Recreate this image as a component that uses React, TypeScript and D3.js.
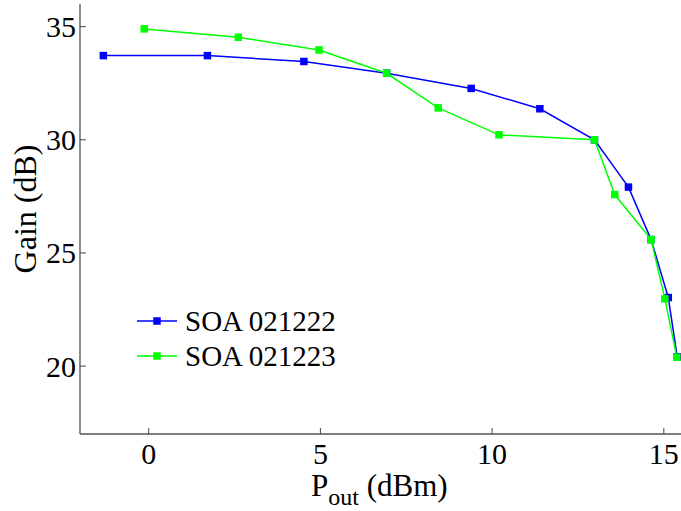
import React from "react";
import * as d3 from "d3";

const pOut1 = [-1.32, 1.71, 4.52, 6.93, 9.39, 11.39, 12.98, 13.97, 14.63, 15.13, 15.39];
const gain1 = [33.72, 33.72, 33.46, 32.94, 32.27, 31.37, 30.0, 27.91, 25.59, 23.03, 20.41];
const pOut2 = [-0.13, 2.61, 4.96, 6.93, 8.43, 10.2, 12.98, 13.57, 14.63, 15.03, 15.38];
const gain2 = [34.9, 34.53, 33.97, 32.94, 31.41, 30.22, 30.0, 27.58, 25.59, 22.97, 20.39];
const seriesNames = ["SOA 021222", "SOA 021223"];
const seriesColors = ["#0000ff", "#00ff00"];
const xTicks = [0, 5, 10, 15];
const yTicks = [20, 25, 30, 35];

const W = 681;
const H = 511;
const left = 80;
const right = 681;
const top = 4;
const bottom = 434;

const font = "Liberation Serif, Times New Roman, Times, serif";
const ts = (size: number) => ({ fontFamily: font, fontSize: size + "px" });

export default function App() {
  const x = d3.scaleLinear().domain([-2, 15.5]).range([left, right]);
  const y = d3.scaleLinear().domain([17, 36]).range([bottom, top]);
  const series = [
    { name: seriesNames[0], color: seriesColors[0], pts: pOut1.map((v, i) => [v, gain1[i]] as [number, number]) },
    { name: seriesNames[1], color: seriesColors[1], pts: pOut2.map((v, i) => [v, gain2[i]] as [number, number]) },
  ];
  const line = d3
    .line<[number, number]>()
    .x((d) => x(d[0]))
    .y((d) => y(d[1]));
  const ms = 7.5;
  return (
    <svg
      width={W}
      height={H}
      style={{ position: "absolute", left: 0, top: 0, background: "#fff" }}
    >
      <rect x={0} y={0} width={W} height={H} fill="#fff" />
      <line x1={left} y1={top} x2={left} y2={bottom} stroke="#666" strokeWidth={1.5} />
      <line x1={left} y1={bottom} x2={right} y2={bottom} stroke="#555" strokeWidth={1.5} />
      {yTicks.map((t) => (
        <g key={"y" + t}>
          <line x1={left} x2={left + 6} y1={y(t)} y2={y(t)} stroke="#444" strokeWidth={1} />
          <text x={left - 4} y={y(t)} dy="0.35em" textAnchor="end" style={ts(30)} fill="#000">
            {t}
          </text>
        </g>
      ))}
      {xTicks.map((t) => (
        <g key={"x" + t}>
          <line x1={x(t)} x2={x(t)} y1={bottom} y2={bottom - 6} stroke="#444" strokeWidth={1} />
          <text x={x(t)} y={464} textAnchor="middle" style={ts(30)} fill="#000">
            {t}
          </text>
        </g>
      ))}
      <text x={311} y={496} style={ts(31)} fill="#000">
        P
        <tspan style={ts(24)} dy={9}>out</tspan>
        <tspan style={ts(31)} dy={-9}> (dBm)</tspan>
      </text>
      <text transform={`translate(36, 209) rotate(-90)`} textAnchor="middle" style={ts(32)} fill="#000">
        Gain (dB)
      </text>
      {series.map((s) => (
        <g key={s.name}>
          <path d={line(s.pts) || ""} fill="none" stroke={s.color} strokeWidth={1.5} />
          {s.pts.map((p, i) => (
            <rect key={i} x={x(p[0]) - ms / 2} y={y(p[1]) - ms / 2} width={ms} height={ms} fill={s.color} />
          ))}
        </g>
      ))}
      {series.map((s, i) => {
        const ly = 321 + i * 35;
        return (
          <g key={"lg" + i}>
            <line x1={137} x2={177} y1={ly} y2={ly} stroke={s.color} strokeWidth={1.5} />
            <rect x={157 - ms / 2} y={ly - ms / 2} width={ms} height={ms} fill={s.color} />
            <text x={185} y={ly} dy="0.35em" style={ts(29)} fill="#000">
              {s.name}
            </text>
          </g>
        );
      })}
    </svg>
  );
}
